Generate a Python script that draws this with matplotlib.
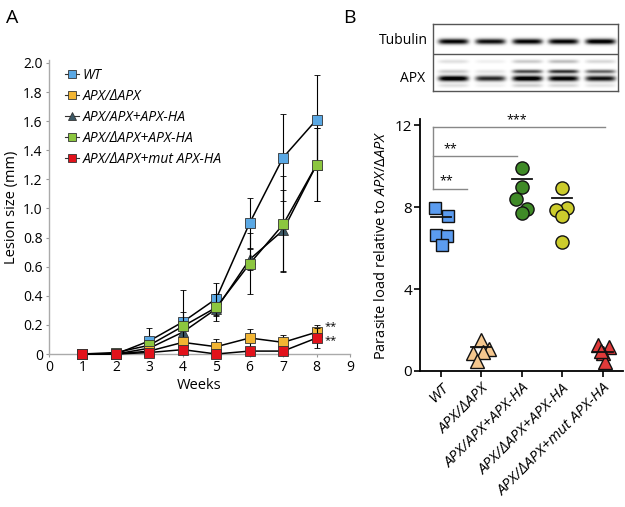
import numpy as np
import matplotlib
matplotlib.use("Agg")
import matplotlib.pyplot as plt
from matplotlib.lines import Line2D

plt.rcParams['font.family'] = ['Open Sans', 'DejaVu Sans']
plt.rcParams['mathtext.fontset'] = 'custom'
plt.rcParams['mathtext.it'] = 'Open Sans:italic'
plt.rcParams['mathtext.rm'] = 'Open Sans'

#%% Data - panel A (lesion size per week)
weeks = [1, 2, 3, 4, 5, 6, 7, 8]
series_names = ['WT', 'APX/ΔAPX', 'APX/APX+APX-HA', 'APX/ΔAPX+APX-HA', 'APX/ΔAPX+mut APX-HA']
wt = [0, 0, 0.09, 0.22, 0.38, 0.90, 1.35, 1.61]
wt_err = [0, 0, 0.09, 0.22, 0.11, 0.17, 0.30, 0.31]
het = [0, 0, 0.02, 0.08, 0.05, 0.11, 0.08, 0.15]
het_err = [0, 0, 0.01, 0.03, 0.05, 0.06, 0.05, 0.05]
wt_ha = [0, 0, 0.04, 0.15, 0.31, 0.65, 0.85, 1.30]
wt_ha_err = [0, 0, 0.02, 0.05, 0.05, 0.07, 0.28, 0.25]
het_ha = [0, 0.01, 0.06, 0.19, 0.32, 0.62, 0.89, 1.30]
het_ha_err = [0, 0.02, 0.03, 0.10, 0.09, 0.21, 0.33, 0.25]
het_mut = [0, 0, 0.01, 0.03, 0.0, 0.02, 0.02, 0.11]
het_mut_err = [0, 0, 0.01, 0.02, 0.01, 0.02, 0.02, 0.07]

#%% Data - panel B (parasite load)
groups = ['WT', 'APX/ΔAPX', 'APX/APX+APX-HA', 'APX/ΔAPX+APX-HA', 'APX/ΔAPX+mut APX-HA']
load_wt = [7.95, 7.56, 6.63, 6.59, 6.15]
load_het = [1.5, 1.05, 0.9, 0.95, 0.5]
load_het_ha = [9.9, 8.98, 8.39, 7.9, 7.7]
load_wt_ha = [8.93, 7.95, 7.85, 7.56, 6.3]
load_mut = [1.27, 1.17, 0.88, 0.44, 1.0]
group_means = [7.5, 1.15, 9.35, 8.45, 0.92]
jitter_wt = [-0.15, 0.17, -0.12, 0.15, 0.02]
jitter_het = [0.0, 0.2, -0.2, 0.05, -0.1]
jitter_circ = [0.0, 0.0, -0.15, 0.13, 0.0]
jitter_circ2 = [0.0, 0.12, -0.15, 0.0, 0.0]
jitter_mut = [-0.12, 0.15, 0.0, 0.05, -0.05]
sig_levels = [11.9, 10.5, 8.9]
sig_ends = [4.06, 1.88, 0.65]
sig_text = ['***', '**', '**']
sig_text_x = [1.88, 0.23, 0.15]

# western blot band intensities per lane
tubulin_band = [1.0, 0.95, 1.0, 1.0, 1.05]
apx_main = [1.1, 0.85, 1.1, 1.05, 0.95]
apx_upper = [0.2, 0.1, 0.7, 0.8, 0.6]
apx_faint_top = [0.12, 0.06, 0.2, 0.25, 0.15]
apx_faint_bot = [0.12, 0.06, 0.18, 0.15, 0.1]

fig = plt.figure(figsize=(6.25, 5.07), dpi=100)

#%% Panel A
axA = fig.add_axes([49/625, 1-354/507, 301/625, 294/507])
styles = [
    (wt, wt_err, 's', '#5aa8e4'),
    (het, het_err, 's', '#f2b533'),
    (wt_ha, wt_ha_err, '^', '#3b5866'),
    (het_ha, het_ha_err, 's', '#8cc63f'),
    (het_mut, het_mut_err, 's', '#e2121b'),
]
zorders = [4, 6, 3, 5, 7]
handles = []
for (vals, errs, mk, col), name, z in zip(styles, series_names, zorders):
    axA.errorbar(weeks, vals, yerr=errs, color='black', lw=1.1, elinewidth=0.8,
                 capsize=2, capthick=0.8, marker=mk, markersize=6.5,
                 markerfacecolor=col, markeredgecolor='#333333', markeredgewidth=0.6,
                 zorder=z, clip_on=False)
    handles.append(Line2D([], [], color='#333333', lw=0.8, marker=mk, markersize=6,
                          markerfacecolor=col, markeredgecolor='#333333',
                          markeredgewidth=0.6))
axA.set_xlim(0, 9)
axA.set_ylim(0, 2.02)
axA.set_xticks(range(0, 10))
axA.set_yticks([0, 0.2, 0.4, 0.6, 0.8, 1.0, 1.2, 1.4, 1.6, 1.8, 2.0])
axA.set_yticklabels(['0', '0.2', '0.4', '0.6', '0.8', '1.0', '1.2', '1.4', '1.6', '1.8', '2.0'])
axA.tick_params(labelsize=10, length=2.5, width=0.8, color='#999999', pad=2)
for s in ['top', 'right']:
    axA.spines[s].set_visible(False)
for s in ['left', 'bottom']:
    axA.spines[s].set_color('#aaaaaa')
    axA.spines[s].set_linewidth(1.0)
axA.set_xlabel('Weeks', fontsize=10.5, labelpad=2)
axA.set_ylabel('Lesion size (mm)', fontsize=10.5, labelpad=3)
leg = axA.legend(handles, series_names, loc='upper left', bbox_to_anchor=(0.025, 1.0),
                 frameon=False, fontsize=10, handlelength=1.0, handletextpad=0.3,
                 labelspacing=0.42, borderaxespad=0.2)
for t in leg.get_texts():
    t.set_fontstyle('italic')
axA.text(8.25, 0.19, '**', fontsize=8, va='center', ha='left')
axA.text(8.25, 0.09, '**', fontsize=8, va='center', ha='left')

fig.text(6/625, 1-18/507, 'A', fontsize=14, va='center')
fig.text(343/625, 1-18/507, 'B', fontsize=14, va='center')

#%% Panel B - blot
h, w = 67, 185
yy, xx = np.mgrid[0:h, 0:w]
lane_x = [20, 57, 94, 130, 167]
img = np.zeros((h, w))
bands = [(17, 2.8, tubulin_band), (54, 2.8, apx_main), (47, 2.0, apx_upper),
         (37, 2.0, apx_faint_top), (61, 2.0, apx_faint_bot)]
for cy, sig, ints in bands:
    for cx, amp in zip(lane_x, ints):
        img += amp * np.exp(-((xx - cx) / 15.0) ** 6) * np.exp(-((yy - cy) / sig) ** 2)
img = 1 - np.clip(img, 0, 1)
axBlot = fig.add_axes([433/625, 1-91/507, 185/625, 67/507])
axBlot.imshow(img, cmap='gray', vmin=0, vmax=1, aspect='auto', interpolation='bilinear')
axBlot.axhline(29, color='#555555', lw=1.0)
axBlot.set_xticks([])
axBlot.set_yticks([])
for s in axBlot.spines.values():
    s.set_color('#555555')
    s.set_linewidth(1.0)
fig.text(428/625, 1-41/507, 'Tubulin', fontsize=10, ha='right', va='center')
fig.text(425/625, 1-78/507, 'APX', fontsize=10, ha='right', va='center')

#%% Panel B - scatter
axB = fig.add_axes([420.5/625, 1-371/507, 202.5/625, 252/507])
point_sets = [
    (load_wt, jitter_wt, 's', '#5b9cf0', 9),
    (load_het, jitter_het, '^', '#f5c78e', 10),
    (load_het_ha, jitter_circ, 'o', '#3f8a27', 9.5),
    (load_wt_ha, jitter_circ2, 'o', '#cccc2c', 9.5),
    (load_mut, jitter_mut, '^', '#e03a3a', 10),
]
for i, (vals, jit, mk, col, ms) in enumerate(point_sets):
    axB.plot([i + j for j in jit], vals, linestyle='none', marker=mk, markersize=ms,
             markerfacecolor=col, markeredgecolor='#111111', markeredgewidth=1.0,
             zorder=3, clip_on=False)
    axB.plot([i - 0.25, i + 0.25], [group_means[i]] * 2, color='#111111', lw=1.3, zorder=4)
for lvl, end, txt, tx in zip(sig_levels, sig_ends, sig_text, sig_text_x):
    axB.plot([-0.19, end], [lvl, lvl], color='#888888', lw=1.0, zorder=1)
    axB.text(tx, lvl + 0.05, txt, ha='center', va='bottom', fontsize=9)
axB.plot([-0.19, -0.19], [sig_levels[-1], sig_levels[0]], color='#888888', lw=1.0, zorder=1)
axB.set_xlim(-0.5, 4.5)
axB.set_ylim(0, 12.3)
axB.set_yticks([0, 4, 8, 12])
axB.set_xticks(range(len(groups)))
axB.set_xticklabels(groups, rotation=45, ha='right', rotation_mode='anchor',
                    fontsize=11, fontstyle='italic')
axB.tick_params(labelsize=11, length=4, width=1.2, pad=2)
axB.tick_params(axis='x', labelsize=11, pad=3)
for s in ['top', 'right']:
    axB.spines[s].set_visible(False)
for s in ['left', 'bottom']:
    axB.spines[s].set_linewidth(1.3)
axB.set_ylabel('Parasite load relative to $\\mathit{APX/ΔAPX}$', fontsize=10.5, labelpad=4)

fig.savefig('out.png', dpi=100)
